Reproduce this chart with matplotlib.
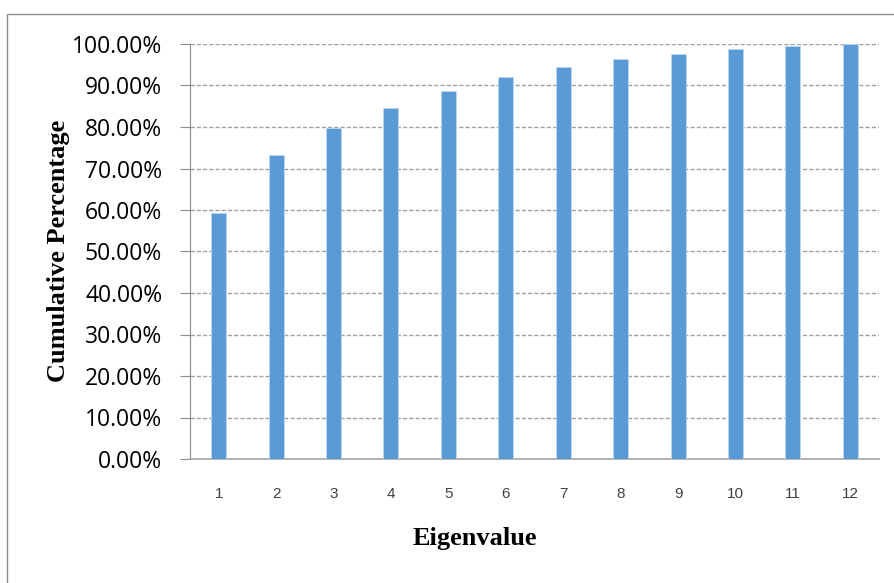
import matplotlib
matplotlib.use('Agg')
import matplotlib.pyplot as plt
from matplotlib.patches import Rectangle
from matplotlib.ticker import FuncFormatter

# Cumulative percentage per eigenvalue
eigenvalues = ['1', '2', '3', '4', '5', '6', '7', '8', '9', '10', '11', '12']
cumulative_pct = [59.2, 73.2, 79.7, 84.6, 88.7, 92.0, 94.5, 96.3, 97.7, 98.7, 99.6, 100.0]
y_ticks = [0, 10, 20, 30, 40, 50, 60, 70, 80, 90, 100]

W, H = 895, 583
fig = plt.figure(figsize=(W / 100, H / 100), dpi=100)

# outer chart frame (left and top edges visible)
fig.patches.append(Rectangle((7 / W, -0.05), 1.1, 1 - 14 / H + 0.05,
                             transform=fig.transFigure, fill=False,
                             edgecolor='#8c8c8c', linewidth=1.0))

ax = fig.add_axes([190 / W, 1 - 459 / H, (879 - 190) / W, (459 - 44) / H])

x = list(range(len(eigenvalues)))
ax.bar(x, cumulative_pct, width=0.26, color='#5b9bd5', edgecolor='#bdd7ee',
       linewidth=0.6, zorder=3)

ax.set_xlim(-0.5, len(eigenvalues) - 0.5)
ax.set_ylim(0, 100)
ax.set_yticks(y_ticks)
ax.yaxis.set_major_formatter(FuncFormatter(lambda v, p: f'{v:.2f}%'))
ax.set_xticks(x)
ax.set_xticklabels(eigenvalues)

ax.grid(axis='y', linestyle=(0, (3, 1.5)), color='#a0a0a0', linewidth=1.0, zorder=0)
for s in ['top', 'right']:
    ax.spines[s].set_visible(False)
ax.spines['left'].set_color('#8c8c8c')
ax.spines['bottom'].set_color('#a6a6a6')
ax.spines['bottom'].set_linewidth(1.2)

ax.tick_params(axis='y', direction='out', length=7, color='#8c8c8c', pad=13,
               labelsize=16.5)
ax.tick_params(axis='x', length=0, pad=20, labelsize=11, labelcolor='#404040')
for lbl in ax.get_yticklabels():
    lbl.set_family('Open Sans')
for lbl in ax.get_xticklabels():
    lbl.set_family('Liberation Sans')

fig.text(475 / W, 1 - 538 / H, 'Eigenvalue', fontfamily='Liberation Serif',
         fontweight='bold', fontsize=19, ha='center', va='center')
fig.text(59 / W, 1 - 251 / H, 'Cumulative Percentage', fontfamily='Liberation Serif',
         fontweight='bold', fontsize=19, ha='center', va='center', rotation=90)

fig.savefig('out.png', dpi=100)
